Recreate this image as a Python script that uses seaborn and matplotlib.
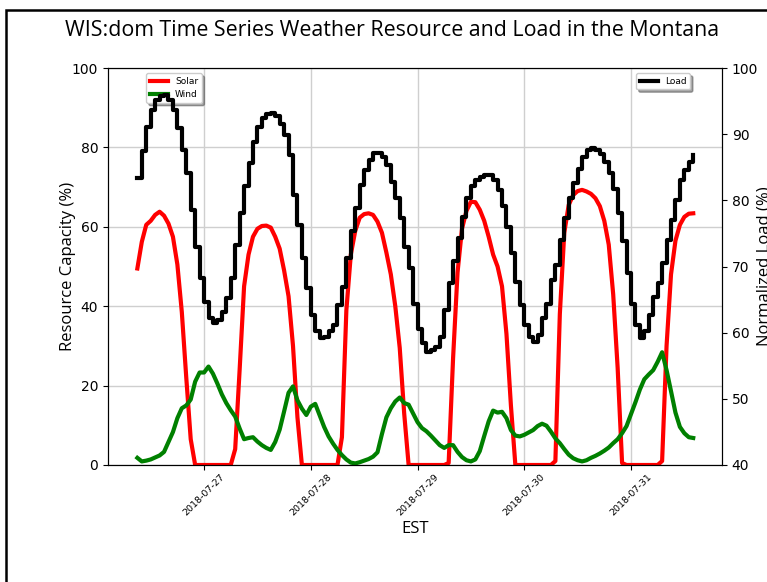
import matplotlib
matplotlib.use("Agg")
import matplotlib.pyplot as plt
import matplotlib.dates as mdates
from matplotlib.patches import Rectangle
import pandas as pd
import seaborn as sns

# Hourly series, starting 2018-07-26 09:00 EST
start_time = "2018-07-26 09:00"

solar = [
    49.5, 56.2, 60.5, 61.5, 63.0, 63.8, 62.8, 60.8, 57.5, 50.5, 38.5, 22.0, 6.5,
    0, 0, 0, 0, 0, 0, 0, 0, 0,
    4.0, 24.0, 45.0, 53.0, 57.5, 59.5, 60.2, 60.3, 59.8, 57.5, 54.5, 49.0, 42.5, 30.0, 12.0,
    0, 0, 0, 0, 0, 0, 0, 0, 0,
    7.0, 39.0, 53.0, 59.0, 62.3, 63.2, 63.4, 63.0, 61.3, 58.5, 53.5, 48.0, 40.0, 29.5, 13.0,
    0, 0, 0, 0, 0, 0, 0, 0, 0,
    0.5, 27.0, 48.5, 59.5, 64.0, 66.3, 66.2, 64.3, 61.5, 57.5, 53.0, 50.0, 45.0, 33.0, 15.0,
    0, 0, 0, 0, 0, 0, 0, 0, 0,
    1.0, 38.0, 58.5, 65.5, 68.0, 69.0, 69.3, 68.9, 68.3, 67.2, 65.2, 61.5, 55.5, 43.0, 24.5, 0.5,
    0, 0, 0, 0, 0, 0, 0, 0,
    1.0, 30.0, 48.0, 56.5, 60.5, 62.5, 63.3, 63.4,
]

wind = [
    1.8, 0.9, 1.1, 1.4, 1.9, 2.4, 3.3, 5.8, 8.3, 11.8, 14.3, 15.0, 16.5, 21.0, 23.3, 23.3,
    24.8, 23.0, 20.5, 17.8, 15.6, 13.8, 12.2, 9.2,
    6.5, 6.8, 7.0, 5.9, 5.0, 4.3, 3.8, 5.8, 8.9, 13.5, 18.2, 19.8, 16.3, 14.2, 12.6, 14.7,
    15.4, 12.5, 9.6, 7.2, 5.4, 3.8, 2.5, 1.4, 0.6, 0.4,
    0.7, 1.1, 1.5, 2.1, 3.2, 7.8, 12.0, 14.3, 16.0, 17.0, 15.6, 15.2, 13.0, 10.8, 9.3, 8.5,
    7.4, 6.2, 5.0, 4.3, 5.0,
    5.0, 3.3, 2.0, 1.2, 0.9, 1.4, 3.5, 7.3, 11.0, 13.7,
    13.2, 13.4, 11.8, 8.8, 7.4, 7.2, 7.6, 8.2, 8.8, 9.8,
    10.4, 9.9, 8.4, 6.7, 5.5, 4.0, 2.6, 1.7, 1.2, 0.9,
    1.2, 1.8, 2.3, 2.9, 3.6, 4.4, 5.5, 6.5, 8.0, 9.8,
    12.8, 15.8, 19.0, 21.6, 22.8, 23.9, 26.0, 28.4, 23.9, 18.6,
    13.2, 9.6, 8.0, 7.0, 6.8,
]

load = [
    83.4, 87.5, 91.1, 93.6, 95.2, 95.7, 95.9, 95.2, 93.6, 90.9,
    87.6, 84.1, 78.5, 73.0, 68.3, 64.7, 62.2, 61.5, 61.9, 63.1,
    65.2, 68.2, 73.2, 78.1, 82.1, 85.6, 88.8, 91.1, 92.4, 93.0,
    93.2, 92.7, 91.6, 89.9, 86.9, 80.8, 76.3, 71.3, 66.8, 62.7,
    60.2, 59.2, 59.4, 60.2, 61.2, 64.2, 66.9, 71.3, 75.3, 78.8,
    82.3, 84.6, 86.1, 87.1, 87.1, 86.6, 85.4, 82.8, 80.3, 77.3,
    73.0, 69.7, 64.4, 60.6, 58.4, 57.1, 57.4, 57.9, 59.4, 63.4,
    67.5, 70.9, 74.3, 77.5, 80.3, 82.1, 83.1, 83.6, 83.8, 83.8,
    83.1, 81.6, 79.1, 76.0, 72.0, 67.7, 64.2, 61.2, 59.4, 58.6,
    59.6, 62.2, 64.4, 68.0, 70.2, 74.0, 77.3, 80.3, 82.6, 84.7,
    86.6, 87.6, 87.9, 87.6, 87.0, 85.8, 84.1, 81.7, 78.1, 73.9,
    69.0, 64.3, 61.1, 59.2, 60.2, 62.7, 65.4, 67.5, 70.5, 74.0,
    77.0, 80.1, 83.1, 84.6, 85.8, 86.9,
]

times = pd.date_range(start_time, periods=len(load), freq="h")
df = pd.DataFrame({"EST": times, "Solar": solar, "Wind": wind, "Load": load})

W, H = 767, 582
fig = plt.figure(figsize=(W / 100, H / 100), dpi=100)
ax = fig.add_axes([108 / W, 1 - 465 / H, 614 / W, 397 / H])

sns.lineplot(data=df, x="EST", y="Solar", ax=ax, color="red", lw=3, label="Solar")
sns.lineplot(data=df, x="EST", y="Wind", ax=ax, color="green", lw=3, label="Wind")

ax2 = ax.twinx()
sns.lineplot(data=df, x="EST", y="Load", ax=ax2, color="black", lw=3,
             drawstyle="steps-post", label="Load")

ax.set_ylim(0, 100)
ax2.set_ylim(40, 100)
ax.set_xlim(pd.Timestamp("2018-07-26 02:24"), pd.Timestamp("2018-07-31 20:28"))

ax.xaxis.set_major_locator(mdates.DayLocator())
ax.xaxis.set_major_formatter(mdates.DateFormatter("%Y-%m-%d"))
for lab in ax.get_xticklabels():
    lab.set_rotation(45)
    lab.set_fontsize(6.8)
ax.tick_params(axis="x", pad=1.5)
ax.tick_params(axis="y", labelsize=10)
ax2.tick_params(axis="y", labelsize=10)

ax.grid(True, color="#cfcfcf", lw=1)
ax.set_axisbelow(True)

label_font = dict(family="Open Sans", size=12)
ax.set_xlabel("EST", fontdict=label_font, labelpad=3)
ax.set_ylabel("Resource Capacity (%)", fontdict=label_font, labelpad=-3)
ax2.set_ylabel("Normalized Load (%)", fontdict=label_font, labelpad=-1)

ax.legend(loc="upper left", bbox_to_anchor=(0.062, 0.987), borderaxespad=0,
          fontsize=6.5, shadow=True)
ax2.legend(loc="upper right", bbox_to_anchor=(0.948, 0.987), borderaxespad=0,
           fontsize=6.5, shadow=True)

fig.text(392 / W, 1 - 31 / H, "WIS:dom Time Series Weather Resource and Load in the Montana",
         ha="center", va="center", family="Open Sans", fontsize=15.4)

# outer frame around the figure
fig.add_artist(Rectangle((6 / W, -0.2), 2.0, 1.2 - 10 / H, transform=fig.transFigure,
                         fill=False, lw=1.8, ec="black"))

fig.savefig("out.png", dpi=100)
